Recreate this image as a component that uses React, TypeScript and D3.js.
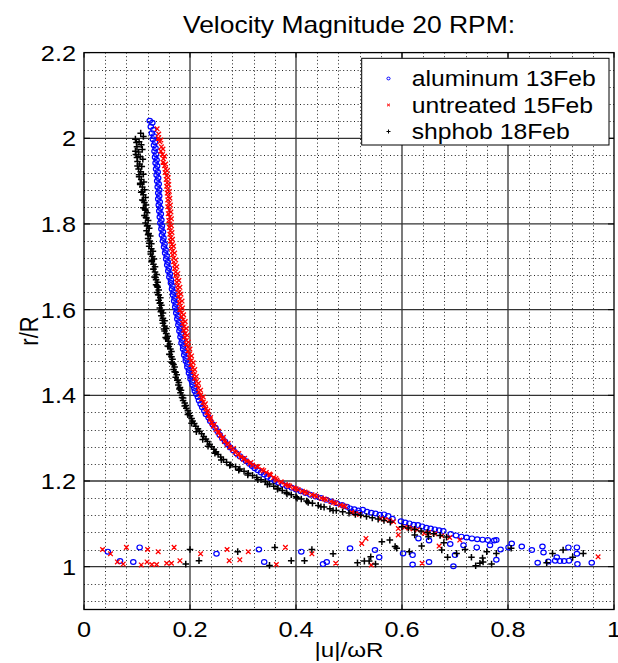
import React from 'react';
import * as d3 from 'd3';

const titleText = 'Velocity Magnitude 20 RPM:';
const xLabel = '|u|/ωR';
const yLabel = 'r/R';
const xTicks = [0, 0.2, 0.4, 0.6, 0.8, 1];
const xTickLabels = ['0', '0.2', '0.4', '0.6', '0.8', '1'];
const yTicks = [1, 1.2, 1.4, 1.6, 1.8, 2, 2.2];
const yTickLabels = ['1', '1.2', '1.4', '1.6', '1.8', '2', '2.2'];
const seriesNames = ['aluminum 13Feb', 'untreated 15Feb', 'shphob 18Feb'];

// aluminum 13Feb (blue circles)
const aluminum: number[][] = [
  [0.124,2.041],[0.129,2.036],[0.126,2.027],[0.131,2.020],[0.128,2.012],[0.132,2.005],[0.130,1.998],[0.134,1.991],[0.132,1.984],[0.135,1.977],
  [0.133,1.970],[0.136,1.963],[0.134,1.956],[0.137,1.949],[0.135,1.942],[0.138,1.935],[0.136,1.928],[0.139,1.921],[0.137,1.914],[0.140,1.907],
  [0.138,1.900],[0.141,1.893],[0.139,1.886],[0.142,1.879],[0.140,1.872],[0.142,1.865],[0.140,1.858],[0.143,1.851],[0.141,1.844],[0.144,1.837],
  [0.142,1.830],[0.145,1.823],[0.143,1.816],[0.146,1.809],[0.144,1.802],[0.147,1.795],[0.146,1.788],[0.149,1.781],[0.147,1.774],[0.150,1.767],
  [0.149,1.760],[0.152,1.753],[0.151,1.746],[0.154,1.739],[0.153,1.732],[0.156,1.725],[0.155,1.718],[0.158,1.711],[0.157,1.704],[0.160,1.697],
  [0.159,1.690],[0.162,1.683],[0.161,1.676],[0.164,1.669],[0.164,1.662],[0.167,1.655],[0.166,1.648],[0.169,1.641],[0.168,1.634],[0.171,1.627],
  [0.170,1.620],[0.173,1.613],[0.172,1.606],[0.175,1.599],[0.174,1.592],[0.177,1.585],[0.176,1.578],[0.179,1.571],[0.178,1.564],[0.181,1.557],
  [0.180,1.550],[0.183,1.543],[0.182,1.536],[0.185,1.529],[0.184,1.522],[0.187,1.515],[0.187,1.508],[0.190,1.501],[0.189,1.494],[0.192,1.487],
  [0.192,1.480],[0.195,1.473],[0.195,1.466],[0.198,1.459],[0.198,1.452],[0.201,1.445],[0.201,1.438],[0.204,1.431],[0.205,1.424],[0.208,1.417],
  [0.209,1.410],[0.212,1.403],[0.215,1.396],[0.217,1.388],[0.220,1.380],[0.223,1.372],[0.227,1.364],[0.230,1.356],[0.235,1.348],[0.238,1.340],
  [0.243,1.332],[0.248,1.324],[0.252,1.316],[0.256,1.308],[0.261,1.300],[0.266,1.292],[0.271,1.285],[0.276,1.278],[0.282,1.271],[0.288,1.264],
  [0.294,1.258],[0.300,1.252],[0.306,1.246],[0.312,1.240],[0.317,1.235],[0.322,1.230],[0.328,1.225],[0.334,1.220],[0.340,1.215],[0.346,1.210],
  [0.353,1.205],[0.360,1.200],[0.367,1.196],[0.375,1.192],[0.383,1.188],[0.392,1.184],[0.400,1.180],[0.409,1.176],[0.418,1.172],[0.427,1.168],
  [0.437,1.164],[0.447,1.160],[0.457,1.156],[0.467,1.152],[0.477,1.148],[0.487,1.144],[0.496,1.140],[0.502,1.136],[0.510,1.134],[0.518,1.131],
  [0.526,1.133],[0.534,1.128],[0.542,1.126],[0.550,1.124],[0.558,1.121],[0.566,1.122],[0.574,1.118],[0.582,1.112],[0.505,1.129],[0.520,1.126],
  [0.598,1.106],[0.606,1.103],[0.614,1.101],[0.622,1.098],[0.630,1.097],[0.638,1.094],[0.646,1.091],[0.654,1.089],[0.662,1.087],[0.670,1.085],
  [0.678,1.083],[0.692,1.076],[0.702,1.073],[0.712,1.070],[0.722,1.068],[0.732,1.066],[0.742,1.064],[0.752,1.063],[0.762,1.062],[0.774,1.061],
  // low scatter near r/R = 1
  [0.068,1.013],[0.093,1.011],[0.045,1.035],[0.105,1.045],[0.250,1.030],[0.330,1.040],[0.340,1.011],[0.410,1.035],[0.451,1.006],[0.458,1.011],
  [0.502,1.043],[0.549,1.039],[0.557,1.022],[0.602,1.031],[0.620,1.027],[0.620,1.005],[0.631,1.066],[0.651,1.061],[0.651,1.011],[0.691,1.053],
  [0.697,1.001],[0.700,1.027],[0.716,1.050],[0.741,1.045],[0.766,1.050],[0.778,1.062],[0.778,1.016],[0.786,1.040],[0.801,1.045],[0.807,1.054],
  [0.826,1.047],[0.845,1.039],[0.856,1.009],[0.865,1.047],[0.867,1.033],[0.876,1.012],[0.889,1.014],[0.892,1.022],[0.898,1.013],[0.906,1.013],
  [0.914,1.045],[0.915,1.014],[0.930,1.045],[0.930,1.030],[0.931,1.006],[0.958,1.009]
];

// untreated 15Feb (red crosses)
const untreated: number[][] = [
  [0.138,2.022],[0.141,2.010],[0.140,2.000],[0.143,1.992],[0.146,1.980],[0.145,1.970],[0.148,1.962],[0.150,1.952],[0.149,1.944],[0.152,1.936],
  [0.154,1.928],[0.153,1.920],[0.156,1.912],[0.155,1.904],[0.157,1.896],[0.156,1.888],[0.158,1.880],[0.157,1.872],[0.159,1.864],[0.158,1.856],
  [0.160,1.848],[0.158,1.840],[0.161,1.832],[0.159,1.824],[0.162,1.816],[0.160,1.808],[0.162,1.800],[0.161,1.792],[0.163,1.784],[0.162,1.776],
  [0.164,1.768],[0.163,1.760],[0.166,1.752],[0.165,1.744],[0.167,1.736],[0.167,1.728],[0.169,1.720],[0.169,1.712],[0.171,1.704],[0.171,1.696],
  [0.173,1.688],[0.173,1.680],[0.175,1.672],[0.175,1.664],[0.177,1.656],[0.177,1.648],[0.179,1.640],[0.178,1.632],[0.181,1.624],[0.180,1.616],
  [0.182,1.608],[0.181,1.600],[0.184,1.592],[0.184,1.584],[0.187,1.576],[0.186,1.568],[0.189,1.560],[0.188,1.552],[0.191,1.544],[0.190,1.536],
  [0.193,1.528],[0.193,1.520],[0.196,1.512],[0.196,1.504],[0.199,1.496],[0.199,1.488],[0.202,1.480],[0.202,1.472],[0.205,1.464],[0.206,1.456],
  [0.208,1.448],[0.209,1.440],[0.212,1.432],[0.213,1.424],[0.216,1.416],[0.217,1.408],[0.220,1.400],[0.222,1.392],[0.225,1.384],[0.227,1.376],
  [0.230,1.368],[0.232,1.360],[0.235,1.352],[0.238,1.344],[0.241,1.336],[0.244,1.328],[0.249,1.320],[0.253,1.313],[0.257,1.306],[0.261,1.299],
  [0.265,1.292],[0.270,1.285],[0.275,1.279],[0.280,1.273],[0.285,1.267],[0.290,1.261],[0.296,1.256],[0.301,1.251],[0.307,1.246],[0.313,1.241],
  [0.318,1.237],[0.328,1.233],[0.336,1.226],[0.344,1.220],[0.352,1.214],[0.358,1.208],[0.364,1.202],[0.372,1.197],[0.380,1.192],[0.388,1.188],
  [0.396,1.184],[0.404,1.180],[0.412,1.176],[0.421,1.172],[0.430,1.168],[0.439,1.164],[0.448,1.160],[0.457,1.156],[0.466,1.152],[0.475,1.148],
  [0.484,1.144],[0.493,1.140],[0.505,1.127],[0.512,1.124],[0.520,1.122],[0.560,1.112],[0.568,1.110],[0.576,1.108],[0.584,1.105],[0.605,1.092],
  [0.613,1.090],[0.621,1.088],[0.629,1.086],[0.650,1.080],[0.662,1.077],[0.675,1.072],[0.690,1.068],[0.709,1.062],
  // second, right-hand row of the dense band
  [0.145,1.996],[0.149,1.975],[0.152,1.958],[0.154,1.940],[0.157,1.924],[0.159,1.908],[0.160,1.892],[0.161,1.876],[0.162,1.860],[0.163,1.844],
  [0.164,1.828],[0.165,1.812],[0.165,1.796],[0.166,1.780],[0.167,1.764],[0.169,1.748],[0.171,1.732],[0.173,1.716],[0.175,1.700],[0.177,1.684],
  [0.179,1.668],[0.181,1.652],[0.183,1.636],[0.185,1.620],[0.186,1.604],[0.188,1.588],[0.191,1.572],[0.193,1.556],[0.195,1.540],[0.197,1.524],
  [0.200,1.508],[0.203,1.492],[0.206,1.476],[0.209,1.460],[0.212,1.444],[0.216,1.428],[0.220,1.412],[0.225,1.396],[0.229,1.380],[0.234,1.364],
  [0.239,1.348],[0.246,1.332],[0.254,1.316],[0.263,1.302],[0.272,1.288],[0.282,1.276],[0.292,1.264],[0.303,1.253],[0.315,1.243],[0.326,1.234],
  [0.339,1.224],[0.350,1.216],[0.362,1.206],[0.372,1.198],[0.385,1.190],[0.400,1.182],[0.417,1.174],[0.435,1.166],[0.453,1.158],[0.471,1.150],
  [0.489,1.142],
  // low scatter near r/R = 1
  [0.035,1.040],[0.050,1.030],[0.063,1.011],[0.074,1.006],[0.080,1.045],[0.108,1.004],[0.119,1.011],[0.120,1.040],[0.128,1.005],[0.137,1.005],
  [0.140,1.035],[0.156,1.008],[0.165,1.008],[0.170,1.045],[0.181,1.014],[0.220,1.030],[0.270,1.040],[0.274,1.014],[0.294,1.016],[0.310,1.035],
  [0.363,1.005],[0.380,1.045],[0.430,1.030],[0.475,1.008],[0.524,1.054],[0.532,1.066],[0.542,1.004],[0.593,1.089],[0.593,1.074],[0.638,1.008],
  [0.642,1.078],[0.670,1.048],[0.970,1.023]
];

// shphob 18Feb (black plus)
const shphob: number[][] = [
  [0.107,2.012],[0.112,2.004],[0.097,1.998],[0.104,1.992],[0.108,1.985],[0.100,1.980],[0.110,1.974],[0.103,1.968],[0.098,1.962],[0.106,1.957],
  [0.111,1.951],[0.101,1.946],[0.105,1.940],[0.109,1.934],[0.103,1.928],[0.107,1.922],[0.112,1.916],[0.104,1.910],[0.108,1.904],[0.113,1.898],
  [0.106,1.892],[0.110,1.886],[0.114,1.880],[0.108,1.874],[0.112,1.868],[0.116,1.862],[0.110,1.856],[0.114,1.850],[0.117,1.844],[0.112,1.838],
  [0.116,1.832],[0.119,1.826],[0.114,1.820],[0.118,1.814],[0.121,1.808],[0.116,1.802],[0.120,1.796],[0.123,1.790],[0.118,1.784],[0.122,1.778],
  [0.125,1.772],[0.121,1.766],[0.124,1.760],[0.127,1.754],[0.123,1.748],[0.127,1.742],[0.130,1.736],[0.126,1.730],[0.129,1.724],[0.132,1.718],
  [0.128,1.712],[0.131,1.706],[0.134,1.700],[0.131,1.694],[0.134,1.688],[0.137,1.682],[0.133,1.676],[0.136,1.670],[0.139,1.664],[0.136,1.658],
  [0.139,1.652],[0.141,1.646],[0.138,1.640],[0.141,1.634],[0.144,1.628],[0.141,1.622],[0.144,1.616],[0.146,1.610],[0.143,1.604],[0.146,1.598],
  [0.149,1.592],[0.146,1.586],[0.149,1.580],[0.152,1.574],[0.149,1.568],[0.152,1.562],[0.155,1.556],[0.152,1.550],[0.155,1.544],[0.158,1.538],
  [0.156,1.532],[0.159,1.526],[0.162,1.520],[0.160,1.514],[0.163,1.508],[0.165,1.502],[0.161,1.496],[0.165,1.490],[0.167,1.484],[0.165,1.478],
  [0.169,1.472],[0.171,1.466],[0.169,1.460],[0.173,1.454],[0.175,1.448],[0.173,1.442],[0.177,1.436],[0.179,1.430],[0.178,1.424],[0.181,1.418],
  [0.183,1.412],[0.182,1.406],[0.185,1.400],[0.187,1.394],[0.187,1.388],[0.190,1.382],[0.192,1.376],[0.193,1.370],[0.196,1.364],[0.198,1.358],
  [0.200,1.352],[0.203,1.346],[0.205,1.340],[0.208,1.334],[0.211,1.328],[0.215,1.322],[0.218,1.316],[0.222,1.310],[0.226,1.304],[0.230,1.298],
  [0.233,1.292],[0.237,1.286],[0.241,1.280],[0.245,1.274],[0.249,1.268],[0.253,1.262],[0.258,1.256],[0.263,1.250],[0.269,1.244],[0.277,1.238],
  [0.286,1.233],[0.294,1.228],[0.302,1.223],[0.310,1.218],[0.318,1.213],[0.326,1.208],[0.334,1.203],[0.342,1.198],[0.350,1.193],[0.358,1.188],
  [0.366,1.183],[0.374,1.178],[0.382,1.173],[0.391,1.168],[0.400,1.163],[0.410,1.158],[0.420,1.153],[0.431,1.148],[0.442,1.143],[0.453,1.139],
  [0.464,1.135],[0.476,1.131],[0.488,1.128],[0.500,1.125],[0.512,1.122],[0.522,1.120],[0.533,1.117],[0.544,1.114],[0.555,1.111],[0.566,1.108],
  [0.578,1.104],[0.600,1.093],[0.612,1.090],[0.624,1.087],[0.636,1.083],[0.648,1.080],[0.660,1.077],[0.672,1.073],[0.684,1.069],
  // second row of the dense band
  [0.099,1.990],[0.097,1.970],[0.100,1.955],[0.101,1.935],[0.104,1.915],[0.106,1.895],[0.110,1.875],[0.112,1.855],[0.115,1.835],[0.117,1.815],
  [0.119,1.795],[0.121,1.775],[0.123,1.755],[0.126,1.735],[0.128,1.715],[0.131,1.695],[0.135,1.675],[0.138,1.655],[0.140,1.635],[0.143,1.615],
  [0.145,1.595],[0.148,1.575],[0.151,1.555],[0.154,1.535],[0.158,1.515],[0.162,1.495],[0.167,1.475],[0.171,1.455],[0.176,1.435],[0.180,1.415],
  [0.185,1.395],[0.190,1.375],[0.196,1.355],[0.203,1.335],[0.212,1.315],[0.224,1.297],[0.234,1.281],[0.247,1.265],[0.259,1.249],[0.275,1.236],
  [0.292,1.225],[0.309,1.214],[0.328,1.203],[0.346,1.192],[0.365,1.181],[0.383,1.170],[0.402,1.160],[0.423,1.150],[0.447,1.140],[0.470,1.131],
  // low scatter near r/R = 1
  [0.192,1.006],[0.200,1.040],[0.217,1.014],[0.290,1.035],[0.350,1.003],[0.360,1.045],[0.391,1.014],[0.416,1.014],[0.430,1.040],[0.470,1.030],
  [0.516,1.009],[0.529,1.013],[0.538,1.013],[0.541,1.023],[0.550,1.006],[0.562,1.058],[0.577,1.062],[0.587,1.047],[0.590,1.043],[0.614,1.035],
  [0.624,1.074],[0.637,1.048],[0.650,1.070],[0.675,1.039],[0.679,1.056],[0.686,1.022],[0.703,1.031],[0.719,1.040],[0.731,1.022],[0.739,1.002],
  [0.747,1.008],[0.752,1.020],[0.753,1.011],[0.760,1.035],[0.769,1.006],[0.778,1.031],[0.806,1.043],[0.873,1.009],[0.884,1.031],[0.904,1.039],
  [0.922,1.022],[0.942,1.031]
];

const W = 618;
const H = 663;
const M = { left: 84, right: 614, top: 52.6, bottom: 609.5 };
const FONT = '"Liberation Sans", Arial, Helvetica, sans-serif';
const SX = 1.15;

const x = d3.scaleLinear().domain([0, 1]).range([M.left, M.right]);
const y = d3.scaleLinear().domain([0.9, 2.2]).range([M.bottom, M.top]);

const xMinor = d3.range(0, 1.0001, 0.04).filter((v) => Math.abs(v / 0.2 - Math.round(v / 0.2)) > 1e-6);
const yMinor = d3.range(0.92, 2.2001, 0.04).filter((v) => Math.abs((v - 1) / 0.2 - Math.round((v - 1) / 0.2)) > 1e-6);

function SText(props: { x: number; y: number; size: number; anchor?: string; children: React.ReactNode }) {
  const { x: tx, y: ty, size, anchor = 'start', children } = props;
  return (
    <text transform={`translate(${tx},${ty}) scale(${SX},1)`} fontSize={size} textAnchor={anchor} fontFamily={FONT} fill="#000">
      {children}
    </text>
  );
}

function crossPath(pts: number[][], r: number) {
  const p = d3.path();
  pts.forEach(([a, b]) => {
    const cx = x(a), cy = y(b);
    p.moveTo(cx - r, cy - r); p.lineTo(cx + r, cy + r);
    p.moveTo(cx - r, cy + r); p.lineTo(cx + r, cy - r);
  });
  return p.toString();
}

function plusPath(pts: number[][], r: number) {
  const p = d3.path();
  pts.forEach(([a, b]) => {
    const cx = x(a), cy = y(b);
    p.moveTo(cx - r, cy); p.lineTo(cx + r, cy);
    p.moveTo(cx, cy - r); p.lineTo(cx, cy + r);
  });
  return p.toString();
}

export default function App() {
  const legX = 361.7, legY = 58.3, legW = 247.3, legH = 86.7;
  const rows = [78.5, 105, 131.5];
  return (
    <svg width={W} height={H} style={{ position: 'absolute', left: 0, top: 0, background: '#fff' }}>
      <rect x={0} y={0} width={W} height={H} fill="#fff" />
      <SText x={(M.left + M.right) / 2} y={33} size={23} anchor="middle">{titleText}</SText>
      <rect x={M.left} y={M.top} width={M.right - M.left} height={M.bottom - M.top} fill="#fff" />
      {/* minor dotted grid */}
      <g stroke="#222" strokeWidth={1} strokeDasharray="1,2.6">
        {xMinor.map((v) => (
          <line key={'xm' + v} x1={Math.round(x(v)) + 0.5} x2={Math.round(x(v)) + 0.5} y1={M.top} y2={M.bottom} />
        ))}
        {yMinor.map((v) => (
          <line key={'ym' + v} y1={Math.round(y(v)) + 0.5} y2={Math.round(y(v)) + 0.5} x1={M.left} x2={M.right} />
        ))}
      </g>
      {/* major grid */}
      <g stroke="#333" strokeWidth={1.3}>
        {xTicks.slice(1, -1).map((v) => (
          <line key={'xg' + v} x1={x(v)} x2={x(v)} y1={M.top} y2={M.bottom} />
        ))}
        {yTicks.slice(0, -1).map((v) => (
          <line key={'yg' + v} y1={y(v)} y2={y(v)} x1={M.left} x2={M.right} />
        ))}
      </g>
      {/* data */}
      <g fill="none" stroke="#0000ff" strokeWidth={1.2}>
        {aluminum.map(([a, b], i) => (
          <ellipse key={'al' + i} cx={x(a)} cy={y(b)} rx={2.7} ry={2.4} />
        ))}
      </g>
      <path d={crossPath(untreated, 2.3)} stroke="#ff0000" strokeWidth={1.3} fill="none" />
      <path d={plusPath(shphob, 3.3)} stroke="#000" strokeWidth={1.5} fill="none" />
      {/* axes box */}
      <rect x={M.left} y={M.top} width={M.right - M.left} height={M.bottom - M.top} fill="none" stroke="#000" strokeWidth={1.3} />
      <g stroke="#000" strokeWidth={1}>
        {xTicks.map((v) => (
          <g key={'xt' + v}>
            <line x1={x(v)} x2={x(v)} y1={M.bottom} y2={M.bottom - 5} />
            <line x1={x(v)} x2={x(v)} y1={M.top} y2={M.top + 5} />
          </g>
        ))}
        {yTicks.map((v) => (
          <g key={'yt' + v}>
            <line y1={y(v)} y2={y(v)} x1={M.left} x2={M.left + 6} />
            <line y1={y(v)} y2={y(v)} x1={M.right} x2={M.right - 6} />
          </g>
        ))}
      </g>
      {xTicks.map((v, i) => (
        <SText key={'xl' + v} x={x(v)} y={637} size={22} anchor="middle">{xTickLabels[i]}</SText>
      ))}
      {yTicks.map((v, i) => (
        <SText key={'yl' + v} x={76} y={y(v) + 8} size={22} anchor="end">{yTickLabels[i]}</SText>
      ))}
      <SText x={(M.left + M.right) / 2} y={657} size={21} anchor="middle">{xLabel}</SText>
      <text transform={`translate(38,${(M.top + M.bottom) / 2}) rotate(-90) scale(1,${SX})`} fontSize={22} textAnchor="middle" fontFamily={FONT}>{yLabel}</text>
      {/* legend */}
      <rect x={legX} y={legY} width={legW} height={legH} fill="#fff" stroke="#000" strokeWidth={1} />
      <ellipse cx={388.5} cy={rows[0]} rx={1.6} ry={1.4} fill="none" stroke="#0000ff" strokeWidth={1} />
      <path d={`M387,${rows[1] - 1.3}L390,${rows[1] + 1.3}M387,${rows[1] + 1.3}L390,${rows[1] - 1.3}`} stroke="#ff0000" strokeWidth={1} />
      <path d={`M386.5,${rows[2]}H390.5M388.5,${rows[2] - 2}V${rows[2] + 2}`} stroke="#000" strokeWidth={1} />
      {seriesNames.map((n, i) => (
        <SText key={n} x={411.7} y={rows[i] + 7.5} size={21.5} anchor="start">{n}</SText>
      ))}
    </svg>
  );
}
